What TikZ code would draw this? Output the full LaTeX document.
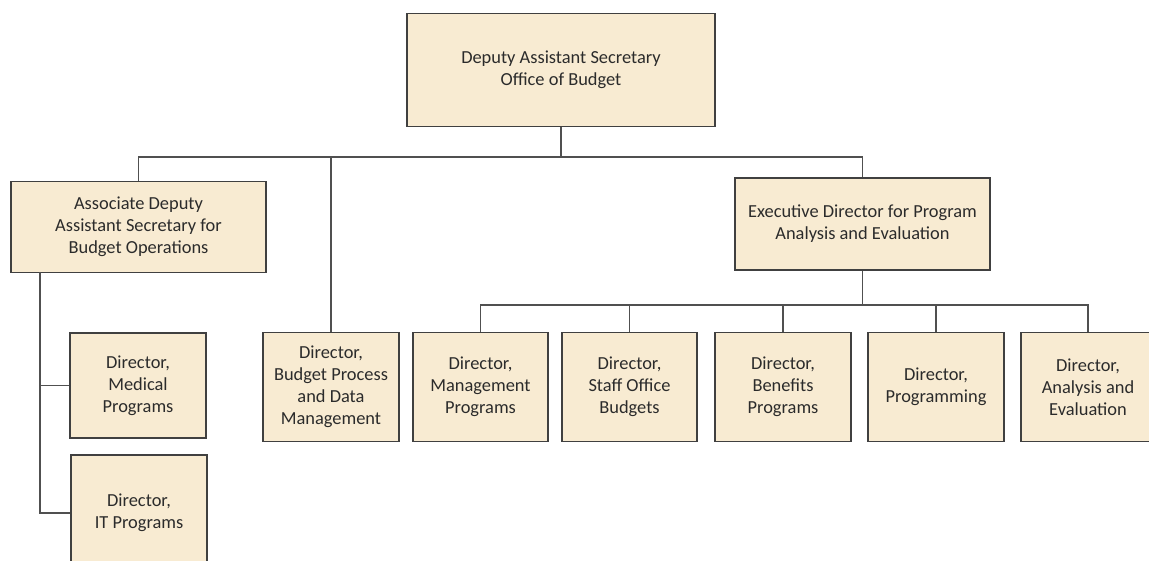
\documentclass[tikz,border=0pt]{standalone}
\usepackage{fontspec}
\setmainfont{Carlito}
\definecolor{boxfill}{HTML}{F8EBD2}
\definecolor{boxline}{HTML}{404040}
\definecolor{linecol}{HTML}{505050}
\definecolor{txtcol}{HTML}{2B2B2B}
\begin{document}
\begin{tikzpicture}[x=1pt,y=-1pt,
  box/.style={draw=boxline, line width=1.4pt, fill=boxfill, inner sep=0pt,
    align=center, text=txtcol, font=\fontsize{18.4}{22}\selectfont},
  conn/.style={draw=linecol, line width=1.4pt}]
\useasboundingbox (0,0) rectangle (1149,561);
% boxes
\node[box, minimum width=308pt, minimum height=113pt] (top) at (561,70) {Deputy Assistant Secretary\\Office of Budget};
\node[box, minimum width=255pt, minimum height=91pt] (ads) at (138.5,227) {Associate Deputy\\Assistant Secretary for\\Budget Operations};
\node[box, minimum width=255pt, minimum height=92pt] (exec) at (862.5,224) {Executive Director for Program\\Analysis and Evaluation};
\node[box, minimum width=136pt, minimum height=105pt] (med) at (138,385.5) {Director,\\Medical\\Programs};
\node[box, minimum width=136pt, minimum height=116pt] (it) at (139,513) {Director,\\IT Programs};
\node[box, minimum width=136pt, minimum height=109pt] (bpdm) at (331,387) {Director,\\Budget Process\\and Data\\Management};
\node[box, minimum width=135pt, minimum height=109pt] (mgmt) at (480.5,387) {Director,\\Management\\Programs};
\node[box, minimum width=135pt, minimum height=109pt] (staff) at (629.5,387) {Director,\\Staff Office\\Budgets};
\node[box, minimum width=136pt, minimum height=109pt] (ben) at (783,387) {Director,\\Benefits\\Programs};
\node[box, minimum width=136pt, minimum height=109pt] (prog) at (936,387) {Director,\\Programming};
\node[box, minimum width=134pt, minimum height=109pt] (anal) at (1088,387) {Director,\\Analysis and\\Evaluation};
% helper coordinates
\coordinate (busA) at (0,157);
\coordinate (busB) at (0,305);
\coordinate (spine) at (40,272);
% connectors
\draw[conn] (top.south) -- (top.south |- busA);
\draw[conn] (ads.north) -- (ads.north |- busA) -- (exec.north |- busA) -- (exec.north);
\draw[conn] (bpdm.north |- busA) -- (bpdm.north);
\draw[conn] (exec.south) -- (exec.south |- busB);
\draw[conn] (mgmt.north) -- (mgmt.north |- busB) -- (anal.north |- busB) -- (anal.north);
\draw[conn] (staff.north |- busB) -- (staff.north);
\draw[conn] (ben.north |- busB) -- (ben.north);
\draw[conn] (prog.north |- busB) -- (prog.north);
\draw[conn] (spine) -- (spine |- it.west) -- (it.west);
\draw[conn] (spine |- med.west) -- (med.west);
\end{tikzpicture}
\end{document}
